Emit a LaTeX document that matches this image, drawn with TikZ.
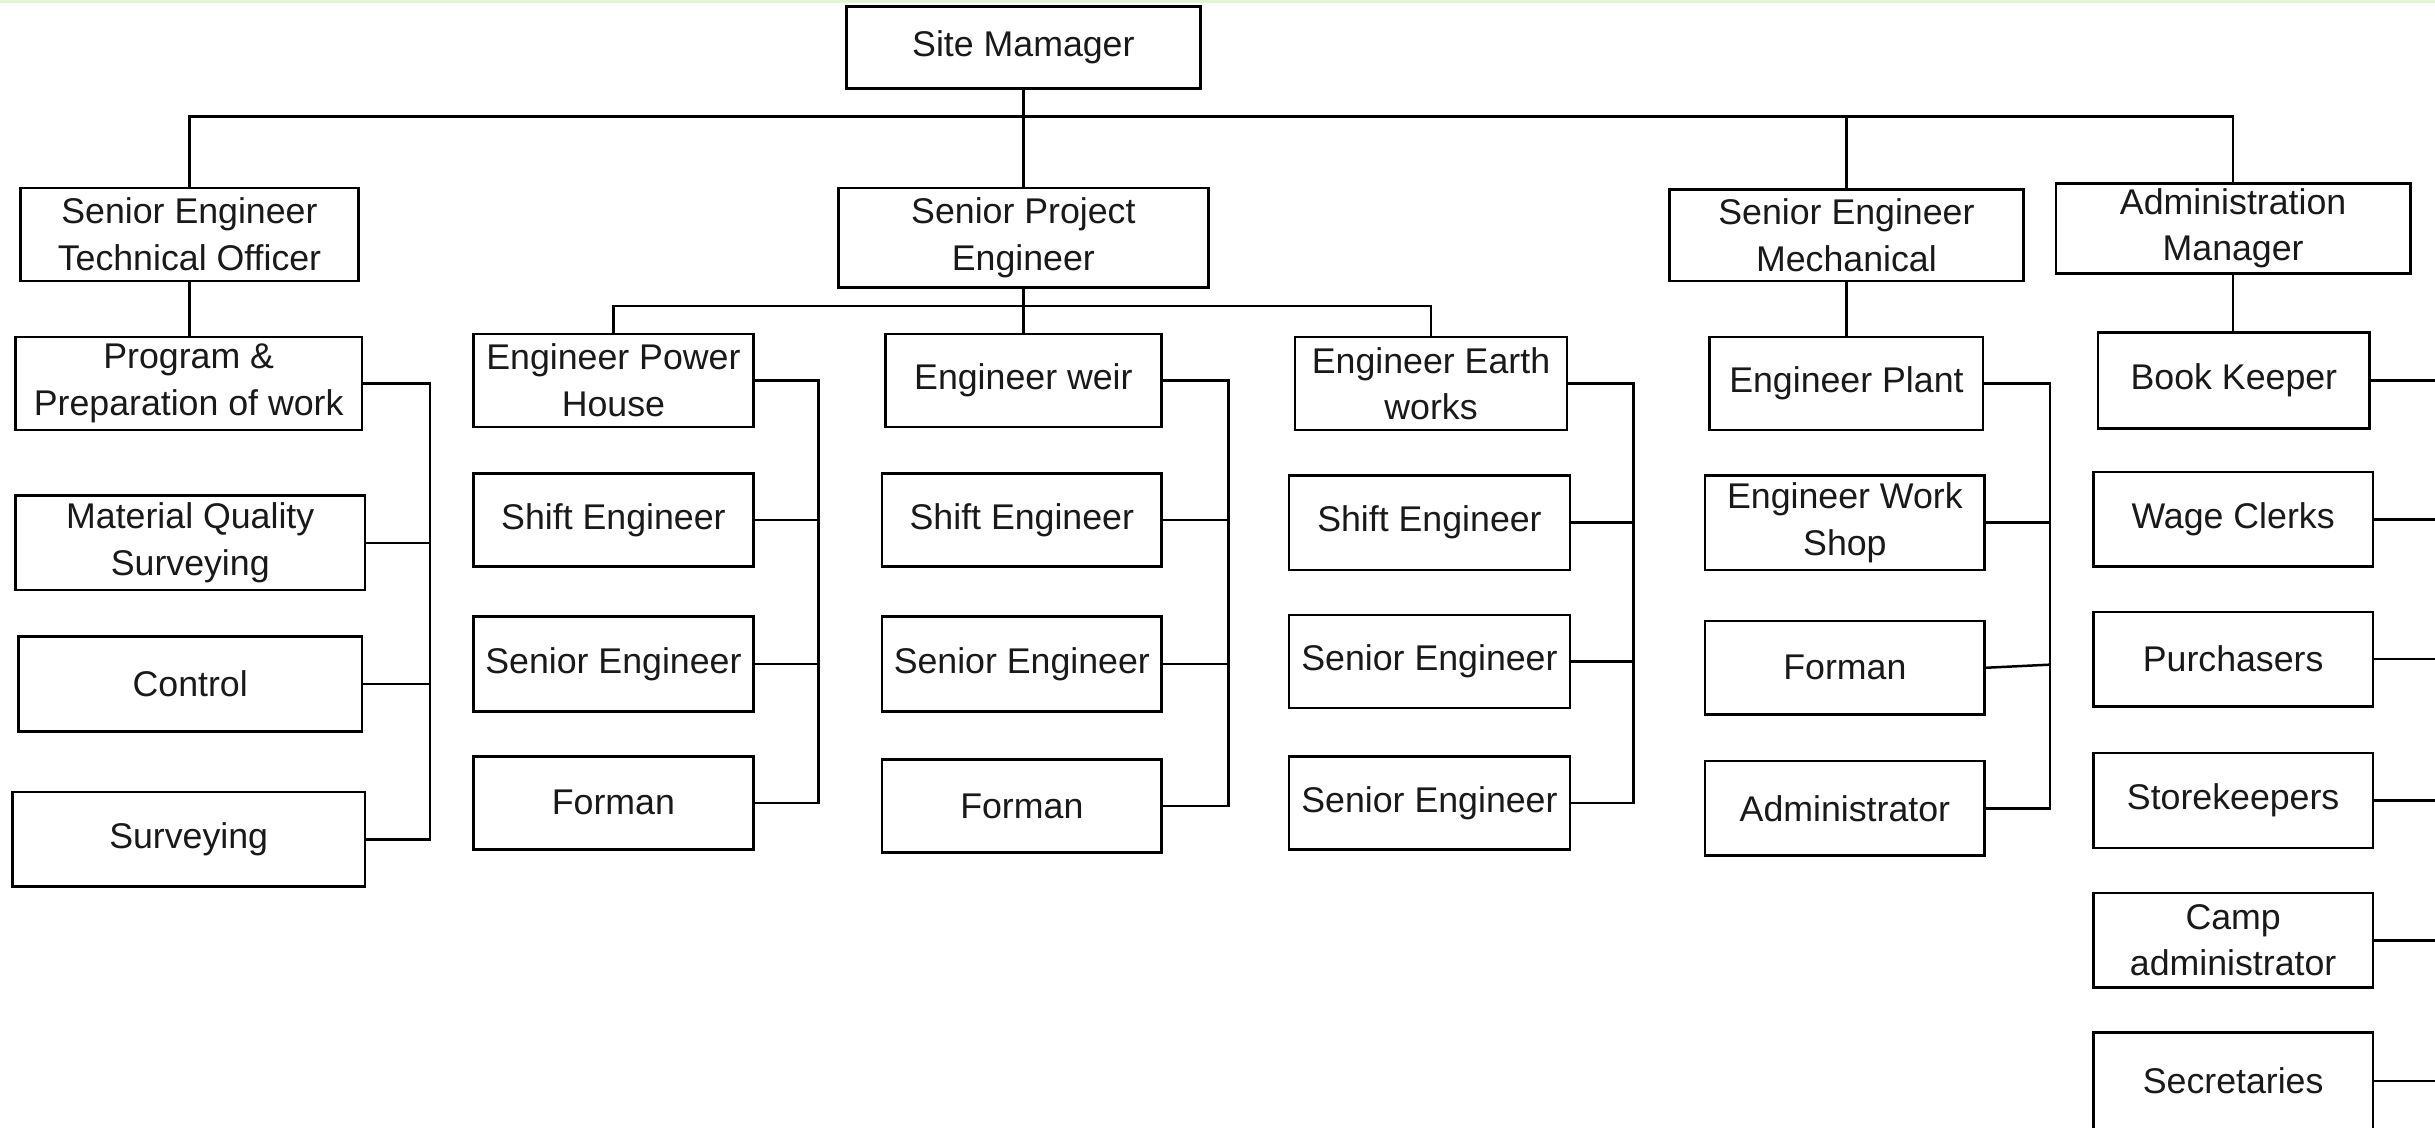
\documentclass[tikz,border=0pt]{standalone}
\usepackage{fontspec}
\setmainfont{Liberation Sans}
\definecolor{topband}{RGB}{224,244,214}
\begin{document}
\begin{tikzpicture}[x=0.5pt,y=-0.5pt,
  box/.style={draw=black, line width=0.85pt, align=center, inner sep=1pt,
    font=\fontsize{11.5}{15}\selectfont, text=black!90},
  link/.style={draw=black, line width=0.8pt}]
\useasboundingbox (0,0) rectangle (1568,726);
\fill[white] (0,0) rectangle (1568,726);
\fill[topband] (0,0) rectangle (1568,2);

% top level
\node[box, minimum width=114pt, minimum height=26.5pt] (site) at (659,30.5) {Site Mamager};

% second level
\node[box, minimum width=109pt, minimum height=30pt] (seto) at (122,151) {Senior Engineer\\Technical Officer};
\node[box, minimum width=119pt, minimum height=32pt] (spe) at (659,153) {Senior Project\\Engineer};
\node[box, minimum width=114pt, minimum height=29.5pt] (sem) at (1189,151.5) {Senior Engineer\\Mechanical};
\node[box, minimum width=114pt, minimum height=29pt] (am) at (1438,147) {Administration\\Manager};

% technical office column
\node[box, minimum width=111.5pt, minimum height=30pt] (ppw) at (121.5,247) {Program \&\\Preparation of work};
\node[box, minimum width=112.5pt, minimum height=30.5pt] (mqs) at (122.5,349.5) {Material Quality\\Surveying};
\node[box, minimum width=110.5pt, minimum height=30.5pt] (ctl) at (122.5,440.5) {Control};
\node[box, minimum width=113.5pt, minimum height=30.5pt] (srv) at (121.5,540.5) {Surveying};

% power house column
\node[box, minimum width=90pt, minimum height=30pt] (eph) at (395,245) {Engineer Power\\House};
\node[box, minimum width=90pt, minimum height=30pt] (shA) at (395,335) {Shift Engineer};
\node[box, minimum width=90pt, minimum height=30.5pt] (seA) at (395,427.5) {Senior Engineer};
\node[box, minimum width=90pt, minimum height=30pt] (foA) at (395,517) {Forman};

% weir column
\node[box, minimum width=89pt, minimum height=30pt] (weir) at (659,245) {Engineer weir};
\node[box, minimum width=90pt, minimum height=30pt] (shB) at (658,335) {Shift Engineer};
\node[box, minimum width=90pt, minimum height=30.5pt] (seB) at (658,427.5) {Senior Engineer};
\node[box, minimum width=90pt, minimum height=30pt] (foB) at (658,519) {Forman};

% earth works column
\node[box, minimum width=87.5pt, minimum height=30pt] (earth) at (921.5,247) {Engineer Earth\\works};
\node[box, minimum width=90.5pt, minimum height=30.5pt] (shC) at (920.5,336.5) {Shift Engineer};
\node[box, minimum width=90.5pt, minimum height=30pt] (seC) at (920.5,426) {Senior Engineer};
\node[box, minimum width=90.5pt, minimum height=30pt] (seD) at (920.5,517) {Senior Engineer};

% mechanical column
\node[box, minimum width=88pt, minimum height=30pt] (plant) at (1189,247) {Engineer Plant};
\node[box, minimum width=90pt, minimum height=30.5pt] (ews) at (1188,336.5) {Engineer Work\\Shop};
\node[box, minimum width=90pt, minimum height=30pt] (foE) at (1188,430) {Forman};
\node[box, minimum width=90pt, minimum height=30.5pt] (adm) at (1188,520.5) {Administrator};

% administration column
\node[box, minimum width=87.5pt, minimum height=31pt] (book) at (1438.5,245) {Book Keeper};
\node[box, minimum width=90pt, minimum height=30.5pt] (wage) at (1438,334.5) {Wage Clerks};
\node[box, minimum width=90pt, minimum height=30.5pt] (purch) at (1438,424.5) {Purchasers};
\node[box, minimum width=90pt, minimum height=30.5pt] (store) at (1438,515.5) {Storekeepers};
\node[box, minimum width=90pt, minimum height=30.5pt] (camp) at (1438,605.5) {Camp\\administrator};
\node[box, minimum width=90pt, minimum height=31pt] (secr) at (1438,696) {Secretaries};

% guide coordinates for buses and brackets
\coordinate (busTop) at (0,75);
\coordinate (busSpe) at (0,197);
\coordinate (brA) at (277,0);
\coordinate (brB) at (527,0);
\coordinate (brC) at (791,0);
\coordinate (brD) at (1052,0);
\coordinate (brE) at (1320,0);
\coordinate (brF) at (1568,0);
\coordinate (foEjoin) at (1320,428);

% top bus
\draw[link] (site.south) -- (spe.north);
\draw[link] (seto.north) -- (seto.north |- busTop) -- (am.north |- busTop) -- (am.north);
\draw[link] (sem.north) -- (sem.north |- busTop);

% technical office
\draw[link] (seto.south) -- (seto.south |- ppw.north);

\draw[link] (ppw.east) -- (ppw.east -| brA) -- (srv.east -| brA) -- (srv.east);
\draw[link] (mqs.east) -- (mqs.east -| brA);
\draw[link] (ctl.east) -- (ctl.east -| brA);

% senior project engineer bus
\draw[link] (spe.south) -- (weir.north);
\draw[link] (eph.north) -- (eph.north |- busSpe) -- (earth.north |- busSpe) -- (earth.north);

% power house bracket
\draw[link] (eph.east) -- (eph.east -| brB) -- (foA.east -| brB) -- (foA.east);
\draw[link] (shA.east) -- (shA.east -| brB);
\draw[link] (seA.east) -- (seA.east -| brB);

% weir bracket
\draw[link] (weir.east) -- (weir.east -| brC) -- (foB.east -| brC) -- (foB.east);
\draw[link] (shB.east) -- (shB.east -| brC);
\draw[link] (seB.east) -- (seB.east -| brC);

% earth works bracket
\draw[link] (earth.east) -- (earth.east -| brD) -- (seD.east -| brD) -- (seD.east);
\draw[link] (shC.east) -- (shC.east -| brD);
\draw[link] (seC.east) -- (seC.east -| brD);

% mechanical bracket
\draw[link] (sem.south) -- (plant.north);
\draw[link] (plant.east) -- (plant.east -| brE) -- (adm.east -| brE) -- (adm.east);
\draw[link] (ews.east) -- (ews.east -| brE);
\draw[link] (foE.east) -- (foEjoin);

% administration
\draw[link] (am.south) -- (am.south |- book.north);
\foreach \n in {book,wage,purch,store,camp,secr}
  \draw[link] (\n.east) -- (\n.east -| brF);
\end{tikzpicture}
\end{document}
